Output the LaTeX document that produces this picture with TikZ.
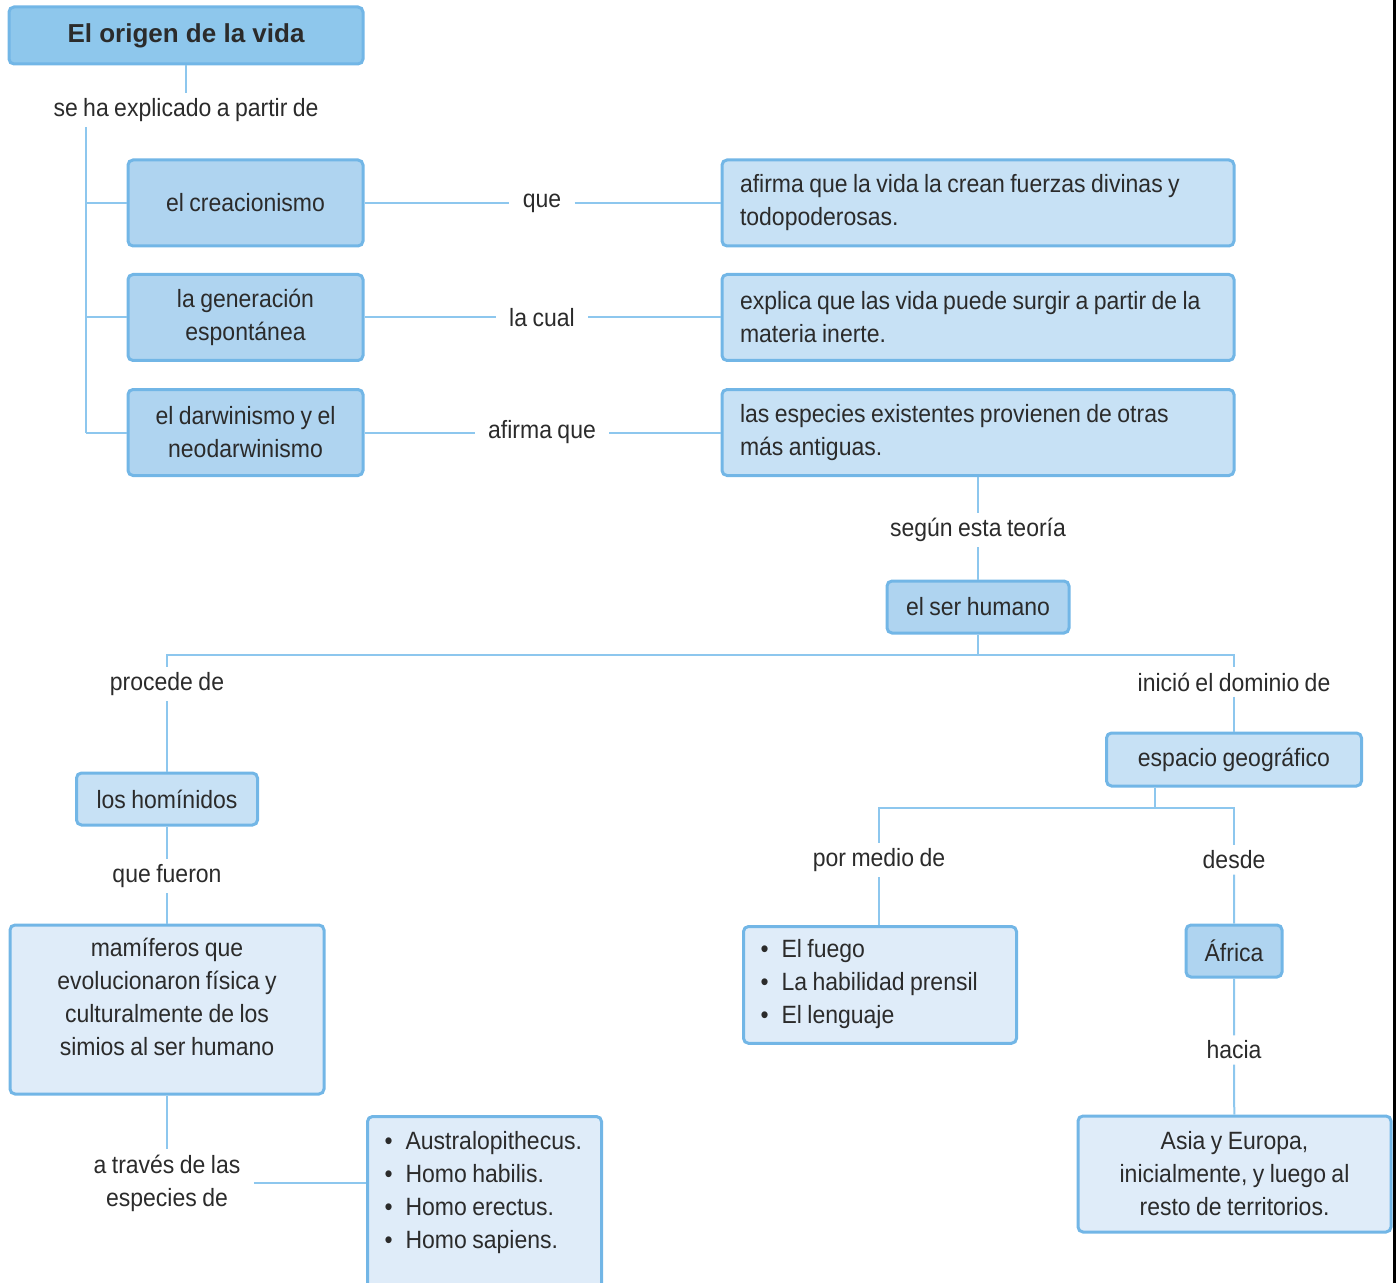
\documentclass[tikz,border=0pt]{standalone}
\usepackage{fontspec}
\setmainfont{Liberation Sans}[FakeStretch=0.92,WordSpace=0.85]
\newfontfamily\titlefont{Liberation Sans}
\usetikzlibrary{calc}

\definecolor{azultit}{HTML}{8EC7EC}
\definecolor{azulA}{HTML}{AFD4F0}
\definecolor{azulB}{HTML}{C7E1F5}
\definecolor{azulC}{HTML}{DFECF9}
\definecolor{borde}{HTML}{72B6E6}
\definecolor{lineaaz}{HTML}{8DC7EE}
\definecolor{texto}{HTML}{2B2B2B}

\tikzset{
  caja/.style={draw=borde, line width=1.5pt, rounded corners=2.5pt, text=texto, inner sep=4pt},
  cajaA/.style={caja, fill=azulA, minimum width=117.5pt, minimum height=43pt, align=center},
  cajaB/.style={caja, fill=azulB},
  cajaC/.style={caja, fill=azulC},
  cajaD/.style={cajaB, inner xsep=9pt, text width=238pt, minimum height=43pt, align=flush left},
  etiq/.style={text=texto, inner xsep=6.5pt, inner ysep=2.5pt},
  linea/.style={draw=lineaaz, line width=1pt}
}

\begin{document}
\begin{tikzpicture}[x=0.5pt,y=-0.5pt,font=\fontsize{12.5}{16.5}\selectfont]
\useasboundingbox (0,0) rectangle (1396,1283);
% parte de arriba
\node[caja,fill=azultit,minimum width=177pt,minimum height=28.5pt,font=\titlefont\bfseries\fontsize{13}{15}\selectfont] (titulo) at (186,35.5) {El origen de la vida};
\node[etiq] (explic) at (186,110) {se ha explicado a partir de};
\node[cajaA] (crea) at (245.5,203) {el creacionismo};
\node[cajaA] (gene) at (245.5,317.5) {la generación\\espontánea};
\node[cajaA] (darw) at (245.5,432.5) {el darwinismo y el\\neodarwinismo};
\node[etiq] (que) at (542,203) {que};
\node[etiq] (cual) at (542,317.5) {la cual};
\node[etiq] (afq) at (542,432.5) {afirma que};
\node[cajaD] (divinas) at (978,203) {\mbox{afirma que la vida la crean fuerzas divinas y}\\todopoderosas.};
\node[cajaD] (inerte) at (978,317.5) {\mbox{explica que las vida puede surgir a partir de la}\\materia inerte.};
\node[cajaD] (antiguas) at (978,432.5) {\mbox{las especies existentes provienen de otras}\\más antiguas.};
\node[etiq] (segun) at (978,530) {según esta teoría};
\node[cajaA,minimum width=91pt,minimum height=26pt] (humano) at (978,607) {el ser humano};
% rama izquierda
\node[etiq] (procede) at (167,684) {procede de};
\node[cajaB,minimum width=90.5pt,minimum height=26pt] (homin) at (167,799) {los homínidos};
\node[etiq] (fueron) at (167,876) {que fueron};
\node[cajaC,minimum width=157pt,inner ysep=6.75pt] (mamif) at (167,1009.5) {\parbox[c][71pt][t]{140pt}{\centering mamíferos que\\evolucionaron física y\\culturalmente de los\\simios al ser humano}};
\node[etiq,align=center] (traves) at (167,1183) {a través de las\\especies de};
\node[cajaC,anchor=north west,inner xsep=8.5pt,inner ysep=7.6pt] (homo) at (366,1115) {\parbox[c][80pt][t]{100pt}{\raggedright
  \textbullet\hspace{6.5pt}Australopithecus.\\
  \textbullet\hspace{6.5pt}Homo habilis.\\
  \textbullet\hspace{6.5pt}Homo erectus.\\
  \textbullet\hspace{6.5pt}Homo sapiens.}};
% rama derecha
\node[etiq] (inicio) at (1234,682) {inició el dominio de};
\node[cajaB,minimum width=127.5pt,minimum height=26.5pt] (espacio) at (1234,759.5) {espacio geográfico};
\node[etiq] (medio) at (879,860) {por medio de};
\node[etiq] (desde) at (1234,860) {desde};
\node[cajaC,anchor=north west,inner xsep=8.5pt,inner ysep=6.6pt] (medios) at (742,925) {\parbox[c][45.2pt][t]{119.5pt}{\raggedright
  \textbullet\hspace{6.5pt}El fuego\\
  \textbullet\hspace{6.5pt}La habilidad prensil\\
  \textbullet\hspace{6.5pt}El lenguaje}};
\node[cajaA,minimum width=48pt,minimum height=26pt] (africa) at (1234,951) {África};
\node[etiq] (hacia) at (1234,1050) {hacia};
\node[cajaC,minimum width=156.5pt,minimum height=58pt,align=center] (asia) at (1234.5,1174) {Asia y Europa,\\inicialmente, y luego al\\resto de territorios.};

\coordinate (tronco) at (86,0);
\coordinate (barra) at (0,655);
\coordinate (barrab) at (1155,808);

% conectores
\draw[linea] (titulo) -- (explic);
\draw[linea] (explic.south -| tronco) -- (darw.west -| tronco);
\foreach \r in {crea,gene,darw}
  \draw[linea] (\r.west -| tronco) -- (\r.west);
\foreach \a/\b/\c in {crea/que/divinas,gene/cual/inerte,darw/afq/antiguas}
  \draw[linea] (\a) -- (\b) -- (\c);
\draw[linea] (antiguas) -- (segun) -- (humano);
\draw[linea] (humano) -- (humano |- barra);
\draw[linea] (procede) -- (procede |- barra) -| (inicio);
\draw[linea] (procede) -- (homin) -- (fueron) -- (mamif) -- (traves);
\draw[linea] (traves) -- (traves -| homo.west);
\draw[linea] (inicio) -- (espacio);
\draw[linea] (barrab |- espacio.south) -- (barrab);
\draw[linea] (medio) -- (medio |- barrab) -| (desde);
\draw[linea] (medio) -- (medio |- medios.north);
\draw[linea] (desde) -- (africa) -- (hacia) -- (asia);

\fill[black] (1393,0) rectangle (1396,1283);
\end{tikzpicture}
\end{document}
